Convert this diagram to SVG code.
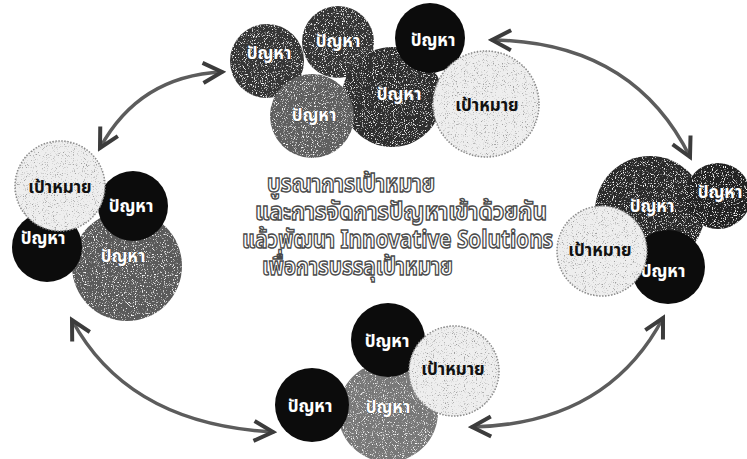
<svg xmlns="http://www.w3.org/2000/svg" width="747" height="459" viewBox="0 0 747 459">
<style>
.dk{fill:#363636;filter:url(#spkW)}
.md{fill:#5f5f5f;filter:url(#spkW)}
.bk{fill:#0c0c0c}
.lt{fill:#eeeeee;stroke:#8a8a8a;stroke-width:1.5;stroke-dasharray:1.5 1.5;filter:url(#spkD)}
.lbl{font-family:"Noto Sans Thai","Noto Sans","DejaVu Sans",sans-serif;font-weight:bold;font-size:17px;text-anchor:middle;dominant-baseline:central;fill:#fff;stroke:#222;stroke-width:0.6;paint-order:stroke}
.lblk{font-family:"Noto Sans Thai","Noto Sans","DejaVu Sans",sans-serif;font-weight:bold;font-size:17px;text-anchor:middle;dominant-baseline:central;fill:#111}
.ctr{font-family:"Noto Sans Thai","Noto Sans","DejaVu Sans",sans-serif;font-weight:bold;font-size:20.5px;fill:#fff;stroke:#4a4a4a;stroke-width:1.2}
.arc{fill:none;stroke:#5c5c5c;stroke-width:3.5;stroke-linecap:round}
</style>
<defs>
<filter id="spkW" x="0" y="0" width="1" height="1">
<feTurbulence type="fractalNoise" baseFrequency="0.9" numOctaves="2" seed="4" result="n"/>
<feColorMatrix in="n" type="matrix" values="0 0 0 0 1  0 0 0 0 1  0 0 0 0 1  5 0 0 0 -2.9" result="dots"/>
<feComposite in="dots" in2="SourceGraphic" operator="in" result="d2"/>
<feMerge><feMergeNode in="SourceGraphic"/><feMergeNode in="d2"/></feMerge>
</filter>
<filter id="spkD" x="-0.05" y="-0.05" width="1.1" height="1.1">
<feTurbulence type="fractalNoise" baseFrequency="0.9" numOctaves="2" seed="9" result="n"/>
<feColorMatrix in="n" type="matrix" values="0 0 0 0 0.35  0 0 0 0 0.35  0 0 0 0 0.35  5 0 0 0 -2.9" result="dots"/>
<feComposite in="dots" in2="SourceGraphic" operator="in" result="d2"/>
<feMerge><feMergeNode in="SourceGraphic"/><feMergeNode in="d2"/></feMerge>
</filter>
<marker id="ah" markerUnits="userSpaceOnUse" viewBox="-24 -14 28 28" refX="0" refY="0" markerWidth="28" markerHeight="28" orient="auto-start-reverse">
<path d="M-19,-10 L0,0 L-19,10" fill="none" stroke="#3c3c3c" stroke-width="4" stroke-linejoin="miter"/>
</marker>
</defs>

<g id="connectors">
<path class="arc" d="M100,148 Q139,76 222,72" marker-start="url(#ah)" marker-end="url(#ah)"/>
<path class="arc" d="M492,40 Q633,42 690,157" marker-start="url(#ah)" marker-end="url(#ah)"/>
<path class="arc" d="M72,320 Q128,424 273,432" marker-start="url(#ah)" marker-end="url(#ah)"/>
<path class="arc" d="M472,427 Q607,424 663,318" marker-start="url(#ah)" marker-end="url(#ah)"/>
</g>

<g id="cluster-top">
<g id="t1"><circle class="dk" cx="267" cy="61" r="37"/><text class="lbl" x="269" y="54">ปัญหา</text></g>
<g id="t2"><circle class="dk" cx="338" cy="42" r="36"/><text class="lbl" x="338" y="42">ปัญหา</text></g>
<g id="t4"><circle class="dk" cx="392" cy="97" r="50" style="fill:#2e2e2e"/><text class="lbl" x="399" y="95">ปัญหา</text></g>
<g id="t3"><circle class="md" cx="312" cy="116" r="42"/><text class="lbl" x="314" y="116">ปัญหา</text></g>
<g id="t5"><circle class="bk" cx="430" cy="38" r="35"/><text class="lbl" x="433" y="41">ปัญหา</text></g>
<g id="t6"><circle class="lt" cx="486" cy="104" r="53"/><text class="lblk" x="487" y="106">เป้าหมาย</text></g>
</g>

<g id="cluster-left">
<g id="l4"><circle class="md" cx="127" cy="266" r="55" style="fill:#5a5a5a"/><text class="lbl" x="123" y="257">ปัญหา</text></g>
<g id="l2"><circle class="bk" cx="133" cy="206" r="35"/><text class="lbl" x="131" y="207">ปัญหา</text></g>
<g id="l3"><circle class="bk" cx="47" cy="247" r="35"/><text class="lbl" x="43" y="239">ปัญหา</text></g>
<g id="l1"><circle class="lt" cx="60" cy="186" r="45"/><text class="lblk" x="60" y="188">เป้าหมาย</text></g>
</g>

<g id="cluster-right">
<g id="r1"><circle class="dk" cx="650" cy="211" r="55" style="fill:#2a2a2a"/><text class="lbl" x="652" y="207">ปัญหา</text></g>
<g id="r2"><circle class="dk" cx="718" cy="196" r="33" style="fill:#222"/><text class="lbl" x="720" y="193">ปัญหา</text></g>
<g id="r4"><circle class="bk" cx="668" cy="267" r="37"/><text class="lbl" x="663" y="272">ปัญหา</text></g>
<g id="r3"><circle class="lt" cx="602" cy="251" r="45"/><text class="lblk" x="600" y="251">เป้าหมาย</text></g>
</g>

<g id="cluster-bottom">
<g id="b3"><circle class="md" cx="388" cy="412" r="50" style="fill:#787878"/><text class="lbl" x="388" y="408">ปัญหา</text></g>
<g id="b1"><circle class="bk" cx="388" cy="340" r="37"/><text class="lbl" x="387" y="342">ปัญหา</text></g>
<g id="b4"><circle class="bk" cx="312" cy="405" r="37"/><text class="lbl" x="310" y="407">ปัญหา</text></g>
<g id="b2"><circle class="lt" cx="454" cy="371" r="45"/><text class="lblk" x="453" y="370">เป้าหมาย</text></g>
</g>

<g id="center-text">
<text class="ctr" transform="translate(267,192) scale(1,1.2)" textLength="168" lengthAdjust="spacingAndGlyphs">บูรณาการเป้าหมาย</text>
<text class="ctr" transform="translate(255,220) scale(1,1.2)" textLength="292" lengthAdjust="spacingAndGlyphs">และการจัดการปัญหาเข้าด้วยกัน</text>
<text class="ctr" transform="translate(242,248) scale(1,1.2)" textLength="311" lengthAdjust="spacingAndGlyphs">แล้วพัฒนา Innovative Solutions</text>
<text class="ctr" transform="translate(262,275) scale(1,1.2)" textLength="191" lengthAdjust="spacingAndGlyphs">เพื่อการบรรลุเป้าหมาย</text>
</g>
</svg>
